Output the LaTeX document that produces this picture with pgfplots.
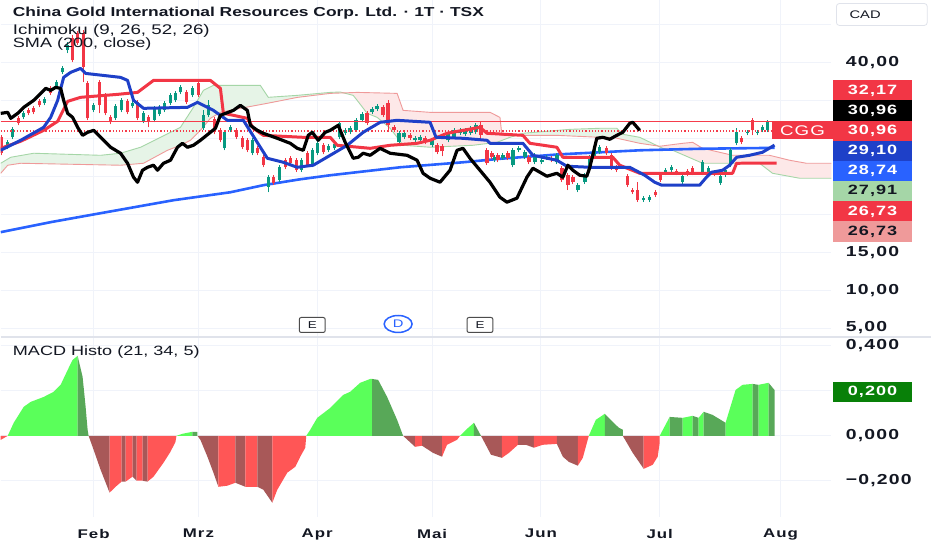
\documentclass[border=0pt]{standalone}
\usepackage{pgfplots}
\pgfplotsset{compat=1.18}
\usepackage{pgfplotstable}
\usepackage{fontspec}
\setmainfont[FakeStretch=1.34]{Liberation Sans}
\newfontfamily\tvscale[FakeStretch=1.34,LetterSpace=8]{Liberation Sans}

\definecolor{tvtext}{RGB}{19,23,34}
\definecolor{tvgrid}{RGB}{240,243,250}
\definecolor{tvsep}{RGB}{224,227,235}
\definecolor{candleup}{RGB}{8,153,129}
\definecolor{candledn}{RGB}{242,54,69}
\definecolor{hline}{RGB}{245,60,75}
\definecolor{tenkan}{RGB}{30,64,200}
\definecolor{kijun}{RGB}{242,54,69}
\definecolor{smaline}{RGB}{41,98,255}
\definecolor{spanA}{RGB}{165,214,167}
\definecolor{spanB}{RGB}{239,154,154}
\definecolor{cloudG}{RGB}{230,244,231}
\definecolor{cloudR}{RGB}{253,232,232}
\definecolor{hGB}{RGB}{90,255,90}
\definecolor{hGD}{RGB}{88,168,88}
\definecolor{hRB}{RGB}{255,86,86}
\definecolor{hRD}{RGB}{168,88,88}
\definecolor{badgeG}{RGB}{8,128,8}

\pgfplotstableread{
x top bot hi lo
7 29.47 28.82 29.74 28.55
12 31.18 30.13 31.45 29.87
23 33.29 32.76 33.55 32.50
44 35.13 34.61 35.40 34.34
56 37.37 36.71 37.63 36.45
62 39.21 38.69 39.48 38.42
67 42.24 41.58 42.63 41.19
93 34.34 33.68 34.61 33.42
115 34.21 32.63 34.47 32.37
121 35.00 33.68 35.26 33.42
132 34.61 34.21 34.87 33.95
143 33.29 32.24 33.55 31.97
154 33.95 32.37 34.21 32.11
159 34.08 33.16 34.34 32.89
164 34.61 33.68 34.87 33.42
170 35.66 34.61 35.92 34.34
175 35.92 35.00 36.18 34.74
180 36.71 36.05 36.97 35.79
192 36.58 35.66 36.84 35.40
203 33.03 31.32 33.68 31.05
208 34.34 33.03 35.00 32.76
224 30.79 28.68 31.05 28.42
230 31.45 31.05 31.71 30.79
252 29.74 28.03 30.00 27.76
268 24.87 23.55 25.13 22.89
279 26.18 24.47 26.45 24.21
301 27.11 25.79 27.37 25.53
312 28.42 26.45 28.68 26.18
317 29.34 28.03 29.61 27.76
328 28.95 28.42 29.21 28.16
334 29.21 28.68 29.47 28.42
339 31.97 30.13 32.24 29.87
345 31.05 30.66 31.32 30.39
350 31.32 30.79 31.58 30.53
356 32.37 31.05 32.63 30.79
362 33.16 32.37 33.42 32.11
372 33.82 33.42 34.08 33.16
377 34.21 33.82 34.47 33.55
399 30.66 29.47 30.92 29.21
404 30.66 30.13 30.92 29.87
415 30.00 29.74 30.26 29.47
420 30.13 29.74 30.39 29.47
432 29.74 29.08 30.00 28.82
448 30.66 29.74 30.92 29.47
454 31.05 30.13 31.32 29.87
460 31.05 30.66 31.32 30.39
465 31.05 30.53 31.32 30.26
471 31.32 30.66 31.58 30.39
476 31.71 30.79 31.97 30.53
495 27.50 27.11 27.76 26.84
503 27.76 27.37 28.03 27.11
513 28.42 26.45 28.68 26.18
519 28.68 28.42 28.95 28.16
525 28.16 27.50 28.42 27.24
535 27.76 26.84 28.03 26.58
542 27.11 26.84 27.37 26.58
547 27.50 27.37 27.76 27.11
557 27.76 26.84 28.03 26.58
578 23.82 23.16 24.08 22.89
585 25.13 24.21 25.39 23.95
590 27.50 26.18 27.76 25.92
595 28.68 27.50 28.95 27.24
600 28.82 28.16 29.08 27.89
644 22.11 21.84 22.37 21.58
650 22.24 21.84 22.50 21.58
666 25.79 25.39 26.05 25.13
672 26.18 25.79 26.45 25.53
683 25.00 24.21 25.26 23.95
703 26.84 25.39 27.11 25.13
709 26.05 25.53 26.32 25.26
721 25.00 24.08 25.26 23.82
726 25.79 25.13 26.05 24.87
731 28.42 26.45 28.68 26.18
737 30.79 29.34 31.32 29.08
748 30.79 30.66 31.05 30.39
758 30.79 30.66 31.05 30.39
763 31.45 31.05 31.71 30.79
768 32.11 31.05 32.37 30.79
}\upc

\pgfplotstableread{
x top bot hi lo
1 30.13 28.03 30.39 27.76
18 32.63 31.97 32.89 31.71
28 33.68 33.29 33.95 33.03
33 33.95 33.42 34.21 33.16
39 34.87 34.34 35.13 34.08
50 36.58 35.92 36.84 35.66
72 43.16 40.26 43.55 40.00
77 43.82 42.50 44.08 42.24
83 43.82 39.34 44.21 37.37
87 37.24 32.63 37.50 32.37
99 37.37 34.34 37.63 33.29
105 35.66 33.29 35.92 33.03
110 32.76 32.11 33.03 31.84
127 34.87 33.42 35.13 33.16
137 34.74 32.63 35.00 32.37
148 32.76 32.24 33.03 31.45
186 36.05 34.74 36.32 34.47
198 37.24 35.66 37.50 35.40
214 32.50 30.79 32.76 30.53
220 31.05 29.74 31.32 29.47
236 31.05 30.13 31.32 29.87
242 30.00 28.82 30.26 28.55
247 29.74 28.42 30.00 28.16
257 28.68 28.03 28.95 27.76
263 27.50 26.45 27.76 26.18
273 24.87 24.08 25.13 23.82
285 27.11 26.18 27.37 25.92
290 27.37 26.71 27.63 26.45
296 27.11 25.79 27.37 25.53
307 28.03 26.45 28.29 26.18
323 29.08 28.16 29.34 27.89
367 33.29 31.97 33.55 31.71
383 34.08 33.03 34.34 32.76
388 34.61 31.71 35.00 31.05
394 31.45 31.05 31.71 30.79
410 30.39 30.00 30.66 29.74
425 30.00 29.47 30.26 29.21
437 29.08 28.16 29.34 27.89
442 28.95 28.29 29.21 27.63
481 31.71 30.39 32.11 29.74
487 28.42 26.71 28.68 26.45
492 28.03 27.50 28.29 27.24
498 27.76 27.11 28.03 26.84
508 28.03 27.37 28.29 27.11
529 27.50 26.84 27.76 26.58
552 27.37 27.11 27.63 26.84
562 26.05 24.47 26.32 24.21
568 25.13 23.82 25.39 23.16
573 24.87 24.21 25.13 23.95
607 28.68 28.03 28.95 27.76
612 27.76 26.05 28.03 25.79
617 26.18 25.79 26.45 25.53
628 25.00 23.82 25.26 23.55
633 23.16 22.89 23.42 22.63
638 23.16 21.84 24.21 21.58
656 22.89 22.50 23.16 22.24
661 25.13 24.47 25.39 24.21
677 25.66 25.39 25.92 25.13
688 25.66 25.26 25.92 25.00
693 26.05 25.39 26.32 25.13
715 25.53 25.26 25.79 25.00
742 30.00 29.47 30.26 29.21
753 32.37 31.05 32.63 30.39
}\dnc

\pgfplotsset{
  tvaxis/.style={
    scale only axis, xmin=0, xmax=832,
    axis line style={draw=none}, tick style={draw=none},
    grid=major, major grid style={tvgrid, line width=1pt},
    xtick={93,198,317,432,541,660,781},
    yticklabel pos=right,
    yticklabel shift=11pt,
    yticklabel style={font=\tvscale\bfseries\fontsize{14.5}{16}\selectfont, text=tvtext, anchor=west},
  },
  candlewick/.style={draw=none, mark=none, forget plot,
    error bars/.cd, y dir=plus, y explicit, error mark=none,
    error bar style={draw=#1, line width=1pt, solid}},
  candlebody/.style={draw=none, mark=none, forget plot,
    error bars/.cd, y dir=plus, y explicit, error mark=none,
    error bar style={draw=#1, line width=3.4pt, solid}},
}

\begin{document}
\begin{tikzpicture}
\fill[white] (0pt,0pt) rectangle (932pt,550pt);

% ---------------- price panel ----------------
\begin{axis}[tvaxis, at={(0pt,213pt)}, anchor=south west, width=832pt, height=337pt,
  ymin=3.82, ymax=48.16, xticklabels={},
  ytick={5,10,15,20,25,30,35,40,45},
  yticklabels={{5,00},{10,00},{15,00},{},{},{},{},{40,00},{}},
]
% Ichimoku cloud (between leading span A and span B)
\addplot[fill=cloudG, draw=none, forget plot] coordinates {(0,26.71)(10,27.50)(33,28.03)(100,27.76)(120,28.03)(140,28.82)(160,30.13)(180,31.45)(193,34.08)(203,36.32)(213,36.97)(260,36.97)(268,35.40)(297,35.66)(330,36.05)(340,36.10)(343.4,35.98)(330,35.92)(297,35.39)(267,34.61)(240,33.95)(230,33.68)(220,33.42)(210,32.63)(200,31.05)(190,29.74)(180,29.08)(167,28.42)(143,26.71)(120,26.45)(20,26.71)(7,26.45)(0,25.39)} -- cycle;
\addplot[fill=cloudR, draw=none, forget plot] coordinates {(343.4,35.98)(357,36.05)(397,35.92)(403,33.68)(430,33.42)(490,33.42)(500,32.76)(502,30.39)(516.4,30.39)(510,30.13)(497,29.47)(473,29.08)(430,28.82)(403,29.08)(397,30.13)(390,31.32)(383,32.11)(377,32.76)(367,33.29)(357,35.00)(353,35.66)} -- cycle;
\addplot[fill=cloudG, draw=none, forget plot] coordinates {(516.4,30.39)(523,30.66)(570,31.18)(600,31.32)(617,31.32)(623,30.53)(640,30.13)(658.1,28.99)(640,29.34)(613,30.13)(600,30.13)(557,30.39)} -- cycle;
\addplot[fill=cloudR, draw=none, forget plot] coordinates {(658.1,28.99)(660,28.95)(683,29.34)(693,29.47)(703,28.68)(733,27.76)(770,27.76)(790,27.11)(807,26.71)(832,26.71)(832,24.74)(800,24.74)(773,25.39)(760,26.71)(703,26.71)(673,28.42)(663,28.68)} -- cycle;
\addplot[spanA, line width=0.9pt, forget plot] coordinates {(0,26.71)(10,27.50)(33,28.03)(100,27.76)(120,28.03)(140,28.82)(160,30.13)(180,31.45)(193,34.08)(203,36.32)(213,36.97)(260,36.97)(268,35.40)(297,35.66)(330,36.05)(340,36.10)(353,35.66)(357,35.00)(367,33.29)(377,32.76)(383,32.11)(390,31.32)(397,30.13)(403,29.08)(430,28.82)(473,29.08)(497,29.47)(510,30.13)(523,30.66)(570,31.18)(600,31.32)(617,31.32)(623,30.53)(640,30.13)(663,28.68)(673,28.42)(703,26.71)(760,26.71)(773,25.39)(800,24.74)(832,24.74)};
\addplot[spanB, line width=0.9pt, forget plot] coordinates {(0,25.39)(7,26.45)(20,26.71)(120,26.45)(143,26.71)(167,28.42)(180,29.08)(190,29.74)(200,31.05)(210,32.63)(220,33.42)(230,33.68)(240,33.95)(267,34.61)(297,35.39)(330,35.92)(357,36.05)(397,35.92)(403,33.68)(430,33.42)(490,33.42)(500,32.76)(502,30.39)(557,30.39)(600,30.13)(613,30.13)(640,29.34)(660,28.95)(683,29.34)(693,29.47)(703,28.68)(733,27.76)(770,27.76)(790,27.11)(807,26.71)(832,26.71)};
% SMA 200
\addplot[smaline, line width=2.6pt, forget plot] coordinates {(0,17.63)(50,18.95)(100,20.13)(173,21.84)(230,22.89)(263,23.82)(300,24.60)(330,25.13)(400,26.18)(463,26.84)(500,27.30)(560,27.89)(640,28.42)(700,28.62)(775,28.74)};
% candles
\addplot[candlewick=candleup] table[x=x, y=lo, y error plus expr=\thisrow{hi}-\thisrow{lo}] {\upc};
\addplot[candlebody=candleup] table[x=x, y=bot, y error plus expr=\thisrow{top}-\thisrow{bot}] {\upc};
\addplot[candlewick=candledn] table[x=x, y=lo, y error plus expr=\thisrow{hi}-\thisrow{lo}] {\dnc};
\addplot[candlebody=candledn] table[x=x, y=bot, y error plus expr=\thisrow{top}-\thisrow{bot}] {\dnc};
% horizontal price lines (32,17 level and last price 30,96)
\addplot[color=hline, line width=1.3pt, forget plot] coordinates {(0,32.17)(832,32.17)};
\addplot[color=hline, line width=1.1pt, dash pattern=on 1.2pt off 2pt, forget plot] coordinates {(0,30.96)(832,30.96)};
% Kijun
\addplot[kijun, line width=3pt, line join=round, forget plot] coordinates {(0,28.68)(20,29.61)(43,31.05)(57,32.24)(67,34.87)(80,35.40)(117,35.79)(137,36.05)(153,37.63)(210,37.63)(220,36.58)(223,33.29)(233,33.03)(247,32.63)(253,31.32)(263,30.39)(303,30.13)(330,30.13)(337,29.08)(370,28.68)(390,29.08)(417,29.34)(430,29.74)(447,30.66)(463,31.05)(480,31.45)(487,30.66)(523,30.39)(530,29.34)(557,28.82)(563,27.50)(613,27.50)(620,26.45)(640,25.39)(733,25.39)(737,26.71)(777,26.73)};
% Tenkan
\addplot[tenkan, line width=3pt, line join=round, forget plot] coordinates {(0,28.42)(20,29.74)(43,31.45)(50,32.76)(57,35.00)(63,38.03)(70,38.69)(80,39.21)(85,38.55)(120,38.03)(127,37.63)(133,35.00)(143,33.95)(187,34.08)(197,34.74)(213,33.68)(227,32.37)(243,32.37)(260,28.82)(267,27.37)(283,26.84)(297,26.18)(313,26.45)(330,27.76)(347,29.08)(363,30.79)(380,32.11)(397,32.37)(430,32.11)(436,30.13)(463,30.00)(487,29.74)(490,29.34)(523,29.34)(533,27.76)(557,27.11)(567,26.32)(590,26.18)(630,26.18)(645,25.13)(655,24.21)(662,23.82)(700,23.82)(706,24.74)(712,25.53)(723,25.79)(730,26.45)(737,27.50)(750,27.76)(763,28.16)(775,29.10)};
% Chikou
\addplot[black, line width=3.2pt, line join=round, forget plot] coordinates {(0,33.29)(7,33.42)(10,32.63)(17,33.29)(23,34.08)(33,35.00)(40,35.92)(45,36.58)(50,36.32)(55,36.71)(60,36.58)(63,35.00)(67,33.29)(72,32.76)(77,31.45)(82,30.39)(87,30.79)(93,31.05)(100,30.13)(110,28.82)(120,28.03)(127,26.71)(133,24.87)(137,24.21)(142,25.79)(147,26.18)(153,26.45)(157,25.79)(163,26.71)(170,27.11)(177,28.82)(182,29.34)(187,28.82)(193,29.08)(200,29.74)(210,30.79)(215,31.32)(220,33.03)(233,33.68)(240,34.34)(247,33.68)(250,31.71)(257,31.05)(263,30.66)(277,30.00)(290,29.34)(297,28.68)(303,28.42)(308,30.39)(312,30.79)(318,29.74)(325,30.79)(330,31.05)(338,31.71)(345,29.47)(353,27.37)(358,27.50)(363,28.03)(370,27.76)(380,28.68)(390,28.03)(407,27.76)(417,27.11)(423,25.39)(430,24.74)(440,24.21)(450,25.79)(457,28.42)(463,28.68)(470,27.37)(480,25.79)(490,24.21)(500,22.24)(507,21.58)(517,22.11)(527,24.87)(533,26.05)(540,25.53)(547,25.00)(557,25.39)(563,24.87)(568,26.45)(573,25.79)(580,25.13)(587,25.00)(590,26.18)(597,30.00)(603,30.13)(610,29.87)(617,30.39)(623,30.79)(630,31.97)(633,32.11)(640,31.05)};
\end{axis}

% ---------------- MACD panel ----------------
\begin{axis}[tvaxis, at={(0pt,33pt)}, anchor=south west, width=832pt, height=180pt,
  ymin=-0.36, ymax=0.44,
  xticklabels={Feb,Mrz,Apr,Mai,Jun,Jul,Aug},
  xticklabel style={font=\tvscale\bfseries\fontsize{12.6}{14}\selectfont, text=tvtext, yshift=-9pt},
  ytick={-0.2,0,0.2,0.4},
  yticklabels={{−0,200},{0,000},{},{0,400}},
]
\addplot[fill=hRB, draw=none] coordinates {(0,0)(0,-0.018)(7,0)} \closedcycle;
\addplot[fill=hGB, draw=none] coordinates {(7,0)(13,0.058)(23,0.129)(30,0.151)(43,0.173)(53,0.196)(60,0.227)(67,0.293)(72,0.338)(77,0.356)(77,0)} \closedcycle;
\addplot[fill=hGD, draw=none] coordinates {(77,0)(77,0.356)(82,0.262)(85,0.129)(87,0.027)(88,0)} \closedcycle;
\addplot[fill=hRD, draw=none] coordinates {(88,0)(93,-0.062)(100,-0.151)(109,-0.253)(109,0)} \closedcycle;
\addplot[fill=hRB, draw=none] coordinates {(109,0)(109,-0.253)(115,-0.227)(121,-0.204)(121,0)} \closedcycle;
\addplot[fill=hRD, draw=none] coordinates {(121,0)(121,-0.204)(125,-0.204)(125,0)} \closedcycle;
\addplot[fill=hRB, draw=none] coordinates {(125,0)(125,-0.204)(132,-0.182)(132,0)} \closedcycle;
\addplot[fill=hRD, draw=none] coordinates {(132,0)(132,-0.182)(136,-0.200)(136,0)} \closedcycle;
\addplot[fill=hRB, draw=none] coordinates {(136,0)(136,-0.200)(142,-0.200)(142,0)} \closedcycle;
\addplot[fill=hRD, draw=none] coordinates {(142,0)(142,-0.200)(147,-0.204)(147,0)} \closedcycle;
\addplot[fill=hRB, draw=none] coordinates {(147,0)(147,-0.204)(153,-0.182)(163,-0.120)(170,-0.071)(175,-0.027)(176,0)} \closedcycle;
\addplot[fill=hGB, draw=none] coordinates {(176,0)(182,0.009)(192,0.018)(192,0)} \closedcycle;
\addplot[fill=hGD, draw=none] coordinates {(192,0)(192,0.018)(197,0.018)(197,0)} \closedcycle;
\addplot[fill=hRD, draw=none] coordinates {(197,0)(200,-0.018)(207,-0.093)(213,-0.164)(218,-0.227)(218,0)} \closedcycle;
\addplot[fill=hRB, draw=none] coordinates {(218,0)(218,-0.227)(227,-0.222)(235,-0.209)(235,0)} \closedcycle;
\addplot[fill=hRD, draw=none] coordinates {(235,0)(235,-0.209)(245,-0.227)(245,0)} \closedcycle;
\addplot[fill=hRB, draw=none] coordinates {(245,0)(245,-0.227)(257,-0.227)(257,0)} \closedcycle;
\addplot[fill=hRD, draw=none] coordinates {(257,0)(257,-0.227)(263,-0.240)(272,-0.298)(272,0)} \closedcycle;
\addplot[fill=hRB, draw=none] coordinates {(272,0)(272,-0.298)(277,-0.240)(287,-0.164)(295,-0.138)(300,-0.093)(305,-0.053)(306,0)} \closedcycle;
\addplot[fill=hGB, draw=none] coordinates {(306,0)(310,0.027)(317,0.080)(330,0.124)(343,0.182)(350,0.196)(360,0.236)(370,0.253)(372,0.253)(372,0)} \closedcycle;
\addplot[fill=hGD, draw=none] coordinates {(372,0)(372,0.253)(378,0.249)(387,0.173)(397,0.071)(403,0)} \closedcycle;
\addplot[fill=hRD, draw=none] coordinates {(403,0)(415,-0.049)(415,0)} \closedcycle;
\addplot[fill=hRB, draw=none] coordinates {(415,0)(415,-0.049)(422,-0.044)(422,0)} \closedcycle;
\addplot[fill=hRD, draw=none] coordinates {(422,0)(422,-0.044)(433,-0.076)(442,-0.093)(442,0)} \closedcycle;
\addplot[fill=hRB, draw=none] coordinates {(442,0)(442,-0.093)(447,-0.040)(457,-0.018)(460,0)} \closedcycle;
\addplot[fill=hGB, draw=none] coordinates {(460,0)(466,0.027)(474,0.058)(474,0)} \closedcycle;
\addplot[fill=hGD, draw=none] coordinates {(474,0)(474,0.058)(481,0)} \closedcycle;
\addplot[fill=hRD, draw=none] coordinates {(481,0)(491,-0.084)(502,-0.098)(502,0)} \closedcycle;
\addplot[fill=hRB, draw=none] coordinates {(502,0)(502,-0.098)(509,-0.076)(518,-0.040)(518,0)} \closedcycle;
\addplot[fill=hRD, draw=none] coordinates {(518,0)(518,-0.040)(526,-0.040)(534,-0.053)(534,0)} \closedcycle;
\addplot[fill=hRB, draw=none] coordinates {(534,0)(534,-0.053)(543,-0.040)(557,-0.036)(557,0)} \closedcycle;
\addplot[fill=hRD, draw=none] coordinates {(557,0)(557,-0.036)(563,-0.093)(569,-0.116)(578,-0.133)(578,0)} \closedcycle;
\addplot[fill=hRB, draw=none] coordinates {(578,0)(578,-0.133)(583,-0.098)(589,0)} \closedcycle;
\addplot[fill=hGB, draw=none] coordinates {(589,0)(596,0.071)(605,0.098)(605,0)} \closedcycle;
\addplot[fill=hGD, draw=none] coordinates {(605,0)(605,0.098)(613,0.062)(619,0.036)(623,0.027)(623,0)} \closedcycle;
\addplot[fill=hRD, draw=none] coordinates {(623,0)(633,-0.076)(644,-0.147)(644,0)} \closedcycle;
\addplot[fill=hRB, draw=none] coordinates {(644,0)(644,-0.147)(653,-0.129)(658,-0.093)(660,-0.031)(660,0)} \closedcycle;
\addplot[fill=hGB, draw=none] coordinates {(660,0)(670,0.084)(670,0)} \closedcycle;
\addplot[fill=hGD, draw=none] coordinates {(670,0)(670,0.084)(683,0.080)(683,0)} \closedcycle;
\addplot[fill=hGB, draw=none] coordinates {(683,0)(683,0.080)(693,0.089)(693,0)} \closedcycle;
\addplot[fill=hGD, draw=none] coordinates {(693,0)(693,0.089)(699,0.080)(699,0)} \closedcycle;
\addplot[fill=hGB, draw=none] coordinates {(699,0)(699,0.080)(704,0.107)(704,0)} \closedcycle;
\addplot[fill=hGD, draw=none] coordinates {(704,0)(704,0.107)(713,0.093)(726,0.058)(726,0)} \closedcycle;
\addplot[fill=hGB, draw=none] coordinates {(726,0)(726,0.058)(736,0.204)(743,0.227)(753,0.231)(753,0)} \closedcycle;
\addplot[fill=hGD, draw=none] coordinates {(753,0)(753,0.231)(759,0.227)(759,0)} \closedcycle;
\addplot[fill=hGB, draw=none] coordinates {(759,0)(759,0.227)(769,0.236)(769,0)} \closedcycle;
\addplot[fill=hGD, draw=none] coordinates {(769,0)(769,0.236)(775,0.204)(775,0)} \closedcycle;
\end{axis}

% separator
\draw[tvsep, line width=1.5pt] (0pt,213pt) -- (932pt,213pt);

% texts
\node[anchor=west, inner sep=0, text=tvtext, font=\bfseries\fontsize{13}{15}\selectfont] at (12pt,537pt) {China Gold International Resources Corp. Ltd. · 1T · TSX};
\node[anchor=west, inner sep=0, text=tvtext, font=\fontsize{14}{16}\selectfont] at (12pt,520pt) {Ichimoku (9, 26, 52, 26)};
\node[anchor=west, inner sep=0, text=tvtext, font=\fontsize{13.5}{16}\selectfont] at (12pt,506pt) {SMA (200, close)};
\node[anchor=west, inner sep=0, text=tvtext, font=\fontsize{13.5}{16}\selectfont] at (12pt,198pt) {MACD Histo (21, 34, 5)};

% CAD box
\draw[tvsep, rounded corners=3pt, line width=0.8pt] (837pt,525pt) rectangle (928pt,547pt);
\node[anchor=west, inner sep=0, text=tvtext, font=\fontsize{11}{13}\selectfont] at (850pt,536pt) {CAD};

% badges
\tikzset{badge/.style={minimum width=80pt, minimum height=20.2pt, inner sep=0, anchor=west, font=\tvscale\bfseries\fontsize{13.5}{16}\selectfont}}
\node[badge, fill=candledn, text=white] at (833pt,460pt) {32,17};
\node[badge, fill=black, text=white] at (833pt,439.8pt) {30,96};
\node[badge, fill=candledn, text=white] at (833pt,419.6pt) {30,96};
\node[badge, fill=tenkan, text=white] at (833pt,399.4pt) {29,10};
\node[badge, fill=smaline, text=white] at (833pt,379.2pt) {28,74};
\node[badge, fill=spanA, text=tvtext] at (833pt,359pt) {27,91};
\node[badge, fill=candledn, text=white] at (833pt,338.8pt) {26,73};
\node[badge, fill=spanB, text=tvtext] at (833pt,318.6pt) {26,73};
\node[badge, fill=badgeG, text=white] at (833pt,158pt) {0,200};
\node[fill=candledn, text=white, minimum width=62pt, minimum height=18pt, inner sep=0, font=\tvscale\fontsize{14}{16}\selectfont] at (803pt,420pt) {CGG};

% event markers
\node[draw=black!70, fill=white, rounded corners=2pt, line width=1pt, minimum width=26pt, minimum height=15pt, inner sep=0, text=tvtext, font=\fontsize{10}{10}\selectfont] at (312pt,225pt) {E};
\draw[smaline, line width=1.5pt, fill=white] (398pt,226pt) ellipse (14pt and 8.5pt);
\node[text=smaline, inner sep=0, font=\fontsize{11}{11}\selectfont] at (398pt,226pt) {D};
\node[draw=black!70, fill=white, rounded corners=2pt, line width=1pt, minimum width=26pt, minimum height=15pt, inner sep=0, text=tvtext, font=\fontsize{10}{10}\selectfont] at (480pt,225pt) {E};
\end{tikzpicture}
\end{document}
